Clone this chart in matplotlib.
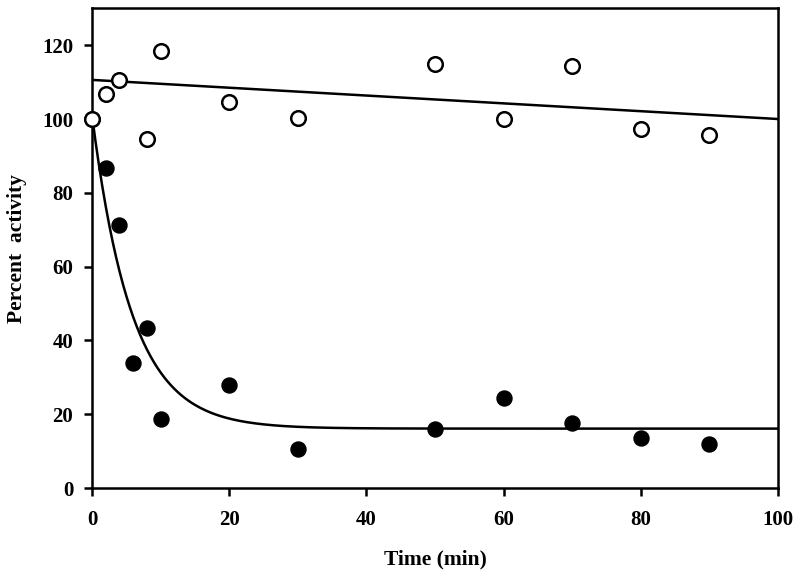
import numpy as np
import matplotlib
matplotlib.use("Agg")
import matplotlib.pyplot as plt

# open circles (control) and filled circles (treated), percent activity vs time
time_open = [0, 2, 4, 8, 10, 20, 30, 50, 60, 70, 80, 90]
act_open = [100, 106.8, 110.5, 94.7, 118.5, 104.7, 100.3, 114.8, 100.0, 114.4, 97.2, 95.8]

time_fill = [0, 2, 4, 6, 8, 10, 20, 30, 50, 60, 70, 80, 90]
act_fill = [100, 86.6, 71.3, 33.8, 43.3, 18.6, 27.9, 10.7, 16.0, 24.4, 17.5, 13.5, 11.8]

# fitted lines
lin_start, lin_end = 110.6, 100.0
exp_plateau, exp_span, exp_k = 16.1, 85.0, 0.172

plt.rcParams["font.family"] = ["Liberation Serif", "DejaVu Serif"]
plt.rcParams["font.weight"] = "bold"

fig = plt.figure(figsize=(8, 5.77), dpi=100)
ax = fig.add_axes([0.115, 0.1542, 0.8575, 0.8314])

t = np.linspace(0, 100, 400)
ax.plot(t, lin_start + (lin_end - lin_start) * t / 100, color="black", lw=1.8, zorder=2)
ax.plot(t, exp_plateau + exp_span * np.exp(-exp_k * t), color="black", lw=1.8, zorder=2)

ax.plot(time_fill, act_fill, "o", ms=10.8, color="black", zorder=3, clip_on=False)
ax.plot(time_open, act_open, "o", ms=10.5, mfc="white", mec="black", mew=1.8,
        zorder=4, clip_on=False)

ax.set_xlim(0, 100)
ax.set_ylim(0, 130)
ax.set_xticks(range(0, 101, 20))
ax.set_yticks(range(0, 121, 20))

for s in ax.spines.values():
    s.set_linewidth(1.8)

ax.tick_params(direction="out", length=5.5, width=1.8, labelsize=15)
ax.tick_params(axis="x", pad=10)
ax.tick_params(axis="y", pad=8)
for lab in ax.get_xticklabels() + ax.get_yticklabels():
    lab.set_fontweight("bold")

ax.set_xlabel("Time (min)", fontsize=15.5, fontweight="bold", labelpad=14)
ax.set_ylabel("Percent  activity", fontsize=15.5, fontweight="bold", labelpad=11)

fig.savefig("out.png", dpi=100)
